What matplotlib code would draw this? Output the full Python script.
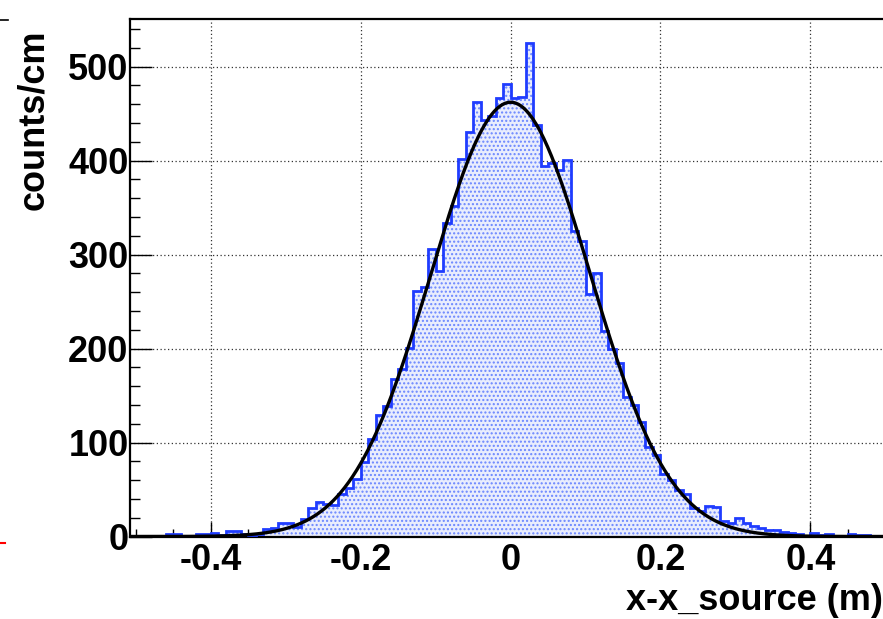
import numpy as np
import matplotlib
matplotlib.use('Agg')
import matplotlib.pyplot as plt
from matplotlib.lines import Line2D
from matplotlib.ticker import MultipleLocator

# histogram: 100 bins of 1 cm from -0.5 m to 0.5 m
bin_lo = -0.50
bin_width = 0.01
counts = [1, 1, 0, 0, 3, 3, 0, 1, 3, 3,
          4, 2, 6, 6, 3, 2, 3, 8, 9, 14,
          14, 10, 19, 30, 37, 35, 34, 45, 52, 61,
          79, 104, 129, 139, 168, 178, 201, 261, 265, 306,
          283, 334, 352, 402, 430, 462, 443, 447, 467, 481,
          467, 468, 525, 438, 394, 397, 390, 401, 325, 314,
          258, 280, 219, 199, 185, 148, 140, 122, 95, 87,
          66, 60, 50, 45, 30, 27, 32, 31, 17, 14,
          20, 14, 11, 9, 7, 7, 5, 4, 3, 1,
          4, 2, 3, 1, 1, 3, 2, 2, 0, 0]

# gaussian fit parameters
fit_amp = 462.0
fit_mean = 0.0
fit_sigma = 0.106

x_ticks = [-0.4, -0.2, 0, 0.2, 0.4]
x_tick_labels = ['-0.4', '-0.2', '0', '0.2', '0.4']
y_ticks = [0, 100, 200, 300, 400, 500]

plt.rcParams['font.family'] = ['Liberation Sans Narrow', 'Liberation Sans', 'DejaVu Sans']
plt.rcParams['font.weight'] = 'bold'
plt.rcParams['hatch.linewidth'] = 1.0

fig = plt.figure(figsize=(8.83, 6.19), dpi=100)
ax = fig.add_axes([130 / 883, 82.5 / 619, 1 - 130 / 883, (536.5 - 18.6) / 619])

edges = bin_lo + bin_width * np.arange(len(counts) + 1)
blue = '#1f3cff'
ax.stairs(counts, edges, fill=True, facecolor='#e9edfd', edgecolor='#6a86ff',
          linewidth=0, hatch='....', zorder=2)
ax.stairs(counts, edges, color=blue, linewidth=2.0, zorder=3)

xf = np.linspace(-0.52, 0.52, 600)
yf = fit_amp * np.exp(-0.5 * ((xf - fit_mean) / fit_sigma) ** 2)
ax.plot(xf, yf, color='black', linewidth=2.4, zorder=4)

ax.set_xlim(-0.508, 0.497)
ax.set_ylim(0, 551)
ax.set_xticks(x_ticks)
ax.set_xticklabels(x_tick_labels)
ax.set_yticks(y_ticks)
ax.xaxis.set_minor_locator(MultipleLocator(0.05))
ax.yaxis.set_minor_locator(MultipleLocator(20))
ax.grid(True, which='major', linestyle=(0, (1, 2)), color='#333333', linewidth=0.9, zorder=1)
ax.set_axisbelow(True)

ax.tick_params(axis='x', which='major', direction='in', length=11, width=1.0,
               labelsize=26, pad=5)
ax.tick_params(axis='x', which='minor', direction='in', length=6, width=1.0)
ax.tick_params(axis='y', which='major', direction='in', length=16, width=1.0,
               labelsize=26, pad=1)
ax.tick_params(axis='y', which='minor', direction='in', length=7, width=1.0)
for lab in ax.get_xticklabels() + ax.get_yticklabels():
    lab.set_fontweight('bold')

ax.spines['right'].set_visible(False)
for s in ['left', 'top', 'bottom']:
    ax.spines[s].set_linewidth(1.6)

fig.text(1.0, 1 - 600 / 619, 'x-x_source (m)', ha='right', va='center',
         fontsize=26, fontweight='bold')
fig.text(34 / 883, 1 - 120 / 619, 'counts/cm', ha='center', va='center',
         rotation=90, fontsize=26, fontweight='bold')

# bits of the neighbouring pad at the left edge
fig.add_artist(Line2D([0, 8 / 883], [1 - 20 / 619] * 2, color='black', lw=1.2))
fig.add_artist(Line2D([0, 5 / 883], [1 - 543 / 619] * 2, color='red', lw=1.5))

plt.savefig('out.png', dpi=100)
